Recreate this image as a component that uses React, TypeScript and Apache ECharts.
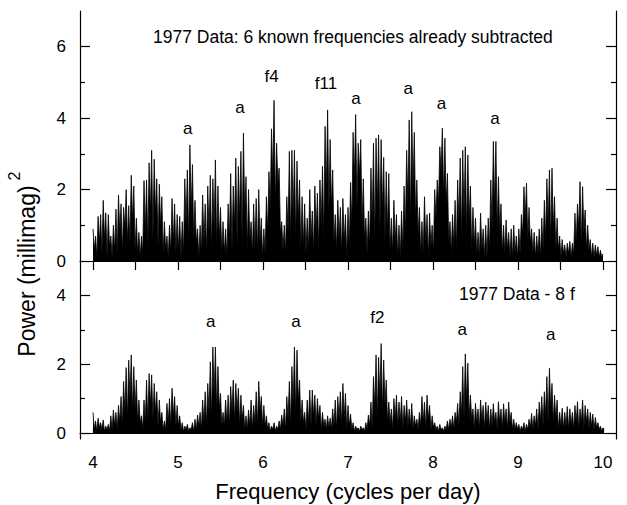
import React, { useEffect, useRef } from "react";
import * as echarts from "echarts";

// Frequency grid of the periodogram samples (cycles per day)
const FREQ_START = 4.0;
const FREQ_STEP = 0.03;

// Top panel: 1977 data, 6 known frequencies subtracted (spike tops / dips between spikes)
const topPeaks = [
  0.9, 0.7, 1.25, 1.3, 1.7, 1.35, 1.3, 0.7, 1.0, 1.45,
  1.85, 1.6, 1.5, 2.0, 1.55, 2.4, 2.1, 1.2, 0.8, 0.7,
  2.25, 2.27, 2.75, 3.1, 2.85, 2.3, 2.15, 1.8, 1.1, 0.7,
  1.0, 1.75, 1.6, 1.3, 1.25, 1.1, 2.3, 2.55, 3.25, 2.7,
  1.7, 0.9, 1.0, 1.85, 1.6, 2.1, 2.4, 2.3, 2.83, 2.1,
  1.5, 1.1, 0.9, 1.6, 2.45, 2.1, 2.88, 2.65, 3.07, 3.58,
  2.36, 2.0, 1.1, 1.6, 1.75, 2.0, 1.2, 0.9, 1.8, 2.5,
  3.7, 4.5, 3.3, 2.6, 1.1, 1.0, 1.8, 3.07, 3.1, 3.1,
  2.8, 2.27, 1.8, 1.6, 1.2, 2.0, 1.4, 2.1, 1.9, 2.27,
  2.65, 3.77, 4.23, 3.4, 2.55, 1.3, 1.7, 1.5, 1.75, 1.3,
  1.5, 2.2, 3.6, 4.1, 3.3, 3.4, 2.3, 1.2, 1.4, 2.6,
  3.3, 3.44, 3.53, 3.4, 2.9, 2.5, 2.45, 1.2, 1.7, 1.3,
  1.0, 1.4, 2.1, 3.1, 3.95, 4.18, 3.6, 2.27, 1.5, 1.1,
  1.8, 1.3, 1.34, 1.0, 2.0, 2.27, 3.2, 3.72, 3.44, 2.45,
  1.1, 1.3, 1.7, 2.27, 2.88, 3.1, 3.2, 2.97, 2.1, 1.5,
  1.2, 0.8, 1.34, 0.9, 1.0, 1.2, 2.27, 3.35, 3.35, 2.36,
  1.6, 1.0, 1.15, 0.8, 0.9, 1.0, 0.7, 0.9, 1.3, 2.08,
  2.18, 1.5, 0.9, 0.8, 0.7, 0.9, 1.2, 1.7, 2.3, 2.55,
  2.6, 1.8, 1.2, 0.7, 0.6, 0.45, 0.5, 0.55, 0.5, 1.34,
  1.6, 2.22, 2.08, 1.43, 1.0, 0.6, 0.5, 0.45, 0.4, 0.3,
  0.2,
];
const topTroughs = [
  0.3, 0.1, 0.5, 0.2, 0.6, 0.1, 0.4, 0.1, 0.3, 0.2,
  0.8, 0.2, 0.9, 0.5, 0.5, 1.1, 0.3, 0.2, 0.1, 0.2,
  0.8, 0.4, 1.3, 0.6, 1.3, 0.4, 1.0, 0.2, 0.3, 0.1,
  0.2, 0.5, 0.2, 0.3, 0.1, 0.2, 1.0, 0.5, 1.4, 0.6,
  0.5, 0.1, 0.2, 0.5, 0.2, 0.8, 0.3, 0.9, 0.4, 0.6,
  0.2, 0.2, 0.1, 0.6, 0.3, 1.0, 0.5, 1.2, 0.5, 1.3,
  0.3, 0.6, 0.2, 0.4, 0.2, 0.5, 0.1, 0.2, 0.8, 1.4,
  2.3, 1.6, 2.2, 0.8, 0.3, 0.2, 0.8, 0.5, 1.2, 0.6,
  1.1, 0.3, 0.4, 0.2, 0.3, 0.6, 0.2, 0.8, 0.3, 1.0,
  0.6, 1.9, 1.4, 1.5, 0.5, 0.3, 0.6, 0.2, 0.5, 0.1,
  0.4, 1.0, 2.3, 1.5, 2.4, 1.0, 0.6, 0.2, 0.4, 1.0,
  0.5, 1.5, 0.8, 1.4, 0.6, 0.8, 0.3, 0.2, 0.5, 0.1,
  0.1, 0.3, 0.8, 1.6, 1.0, 2.0, 1.2, 0.7, 0.2, 0.2,
  0.5, 0.1, 0.4, 0.2, 1.2, 1.6, 2.5, 1.8, 1.6, 0.5,
  0.2, 0.4, 0.3, 1.1, 0.6, 1.2, 0.7, 1.1, 0.3, 0.4,
  0.2, 0.1, 0.3, 0.1, 0.1, 0.3, 0.9, 1.5, 0.8, 0.8,
  0.2, 0.2, 0.3, 0.1, 0.1, 0.2, 0.1, 0.2, 0.7, 1.2,
  0.6, 0.5, 0.2, 0.1, 0.2, 0.1, 0.3, 0.6, 1.0, 0.5,
  0.9, 0.3, 0.3, 0.1, 0.2, 0.1, 0.2, 0.1, 0.2, 0.5,
  0.9, 0.4, 0.8, 0.3, 0.3, 0.1, 0.1, 0.15, 0.1, 0.1,
  0.05,
];

// Bottom panel: 1977 data minus 8 frequencies
const bottomPeaks = [
  0.6, 0.35, 0.43, 0.3, 0.38, 0.2, 0.25, 0.5, 0.67, 0.6,
  0.81, 1.06, 1.5, 1.9, 2.12, 2.27, 1.93, 1.54, 0.96, 0.5,
  0.96, 1.54, 1.73, 1.69, 1.44, 1.2, 0.96, 0.6, 0.35, 0.86,
  1.0, 1.3, 1.06, 0.8, 0.5, 0.3, 0.2, 0.25, 0.15, 0.3,
  0.4, 0.52, 0.6, 0.96, 1.2, 1.44, 2.07, 2.5, 2.5, 1.93,
  1.15, 0.6, 0.96, 1.1, 1.35, 1.54, 1.44, 1.3, 1.1, 0.8,
  0.5, 0.67, 0.96, 0.8, 1.2, 1.5, 1.06, 0.8, 0.5, 0.3,
  0.2, 0.3, 0.2, 0.35, 0.52, 0.7, 1.06, 1.5, 1.93, 2.5,
  2.41, 1.54, 0.96, 0.6, 0.96, 1.25, 1.25, 1.1, 1.0, 0.8,
  0.6, 0.4, 0.5, 0.43, 0.7, 0.96, 1.06, 1.2, 1.44, 1.15,
  0.8, 0.55, 0.3, 0.2, 0.15, 0.2, 0.15, 0.3, 0.52, 0.9,
  1.64, 2.27, 2.2, 2.6, 2.12, 1.54, 0.9, 0.7, 1.0, 1.1,
  0.9, 1.06, 0.8, 0.96, 0.7, 0.86, 0.5, 0.4, 0.6, 1.06,
  0.9, 1.1, 0.8, 0.5, 0.3, 0.2, 0.25, 0.15, 0.2, 0.35,
  0.4, 0.5, 0.6, 0.86, 1.2, 1.93, 2.3, 2.03, 1.1, 0.7,
  0.86, 0.7, 0.96, 0.8, 0.9, 0.8, 0.7, 0.85, 0.6, 0.91,
  0.7, 0.85, 0.7, 0.9, 0.6, 0.4, 0.3, 0.25, 0.2, 0.3,
  0.25, 0.4, 0.57, 0.5, 0.7, 0.9, 1.06, 1.2, 1.64, 1.88,
  1.44, 1.1, 0.96, 0.6, 0.72, 0.6, 0.77, 0.7, 0.6, 0.8,
  0.91, 0.7, 0.96, 0.8, 0.7, 0.6, 0.55, 0.45, 0.3, 0.2,
  0.15,
];
const bottomTroughs = [
  0.1, 0.05, 0.15, 0.1, 0.05, 0.1, 0.05, 0.1, 0.2, 0.1,
  0.3, 0.2, 0.6, 0.4, 1.0, 0.6, 0.7, 0.3, 0.3, 0.1,
  0.3, 0.3, 0.8, 0.4, 0.6, 0.2, 0.3, 0.1, 0.1, 0.3,
  0.2, 0.5, 0.2, 0.2, 0.1, 0.05, 0.1, 0.05, 0.1, 0.05,
  0.1, 0.2, 0.1, 0.3, 0.2, 0.6, 0.4, 1.1, 0.6, 0.7,
  0.2, 0.2, 0.3, 0.2, 0.6, 0.3, 0.6, 0.2, 0.4, 0.1,
  0.1, 0.2, 0.1, 0.3, 0.2, 0.6, 0.2, 0.2, 0.1, 0.05,
  0.1, 0.05, 0.1, 0.1, 0.2, 0.1, 0.4, 0.2, 0.8, 0.5,
  0.9, 0.3, 0.3, 0.1, 0.3, 0.2, 0.5, 0.2, 0.4, 0.1,
  0.2, 0.1, 0.15, 0.1, 0.2, 0.1, 0.4, 0.2, 0.4, 0.1,
  0.2, 0.1, 0.05, 0.1, 0.05, 0.1, 0.05, 0.1, 0.2, 0.1,
  0.7, 0.4, 1.0, 0.6, 0.8, 0.3, 0.3, 0.1, 0.4, 0.2,
  0.3, 0.1, 0.3, 0.2, 0.2, 0.1, 0.2, 0.1, 0.2, 0.3,
  0.1, 0.4, 0.1, 0.15, 0.1, 0.05, 0.1, 0.05, 0.1, 0.1,
  0.15, 0.1, 0.3, 0.2, 0.5, 0.4, 0.9, 0.4, 0.4, 0.1,
  0.3, 0.1, 0.35, 0.1, 0.3, 0.1, 0.2, 0.3, 0.1, 0.3,
  0.1, 0.3, 0.1, 0.3, 0.1, 0.1, 0.1, 0.05, 0.1, 0.05,
  0.1, 0.15, 0.1, 0.2, 0.1, 0.35, 0.2, 0.5, 0.3, 0.7,
  0.3, 0.4, 0.1, 0.2, 0.1, 0.2, 0.1, 0.25, 0.1, 0.3,
  0.1, 0.3, 0.1, 0.3, 0.1, 0.2, 0.1, 0.15, 0.1, 0.05,
  0.05,
];

// Peak annotations
const topLabelText = ["a", "a", "f4", "f11", "a", "a", "a", "a"];
const topLabelFreq = [5.114, 5.73, 6.1, 6.74, 7.094, 7.71, 8.1, 8.73];
const topLabelPower = [3.72, 4.3, 5.16, 4.98, 4.54, 4.84, 4.4, 4.0];
const bottomLabelText = ["a", "a", "f2", "a", "a"];
const bottomLabelFreq = [5.385, 6.388, 7.345, 8.345, 9.385];
const bottomLabelPower = [3.24, 3.24, 3.35, 3.01, 2.85];

// Axis tick values
const xTicks = [4, 4.5, 5, 5.5, 6, 6.5, 7, 7.5, 8, 8.5, 9, 9.5, 10];
const xLabels = [4, 5, 6, 7, 8, 9, 10];
const topMajor = [0, 2, 4, 6];
const topMinor = [1, 3, 5];
const bottomMajor = [0, 2, 4];
const bottomMinor = [1, 3];

const FONT = "'Liberation Sans', Arial, Helvetica, sans-serif";

function buildSpikes(peaks: number[], troughs: number[]) {
  const out: number[][] = [];
  for (let i = 0; i < peaks.length; i++) {
    const f = FREQ_START + i * FREQ_STEP;
    out.push([f, peaks[i]]);
    if (i < peaks.length - 1) out.push([f + FREQ_STEP / 2, troughs[i] ?? 0]);
  }
  return out;
}

function labelData(text: string[], fx: number[], py: number[]) {
  return text.map((t, i) => ({ value: [fx[i], py[i]], name: t }));
}

function yAxisDef(grid: number, pos: string, min: number, max: number, ticks: number[], len: number, labels: number[] | null, line: boolean) {
  return {
    type: "value",
    gridIndex: grid,
    position: pos,
    min,
    max,
    splitLine: { show: false },
    axisLine: { show: line, lineStyle: { color: "#000", width: 1.2 } },
    axisTick: { show: true, inside: true, length: len, customValues: ticks, lineStyle: { color: "#000", width: 1.2 } },
    axisLabel: labels
      ? { show: true, customValues: labels, color: "#000", fontSize: 17, fontFamily: FONT, margin: 14 }
      : { show: false },
  };
}

const annotationLabel = {
  show: true,
  position: "inside",
  formatter: (p: any) => p.name,
  color: "#000",
  fontSize: 17,
  fontFamily: FONT,
  textBorderWidth: 0,
  textShadowBlur: 0,
  opacity: 1,
};

export default function App() {
  const ref = useRef<HTMLDivElement>(null);
  useEffect(() => {
    if (!ref.current) return;
    const chart = echarts.init(ref.current, undefined, { renderer: "svg" });
    const X_MIN = 3.847;
    const X_MAX = 10.153;
    const option: any = {
      animation: false,
      backgroundColor: "#fff",
      grid: [
        { left: 80, right: 11, top: 11, height: 266 },
        { left: 80, right: 11, top: 277, height: 162 },
      ],
      xAxis: [
        {
          type: "value",
          gridIndex: 0,
          position: "top",
          min: X_MIN,
          max: X_MAX,
          splitLine: { show: false },
          axisLine: { show: true, lineStyle: { color: "#000", width: 1.2 } },
          axisTick: { show: true, inside: true, length: 9, customValues: xTicks, lineStyle: { color: "#000", width: 1.2 } },
          axisLabel: { show: false },
        },
        {
          type: "value",
          gridIndex: 1,
          position: "bottom",
          min: X_MIN,
          max: X_MAX,
          splitLine: { show: false },
          axisLine: { show: true, lineStyle: { color: "#000", width: 1.2 } },
          axisTick: { show: true, inside: true, length: 5, customValues: xTicks, lineStyle: { color: "#000", width: 1.2 } },
          axisLabel: { show: true, customValues: xLabels, color: "#000", fontSize: 17, fontFamily: FONT, margin: 15 },
          name: "Frequency (cycles per day)",
          nameLocation: "middle",
          nameGap: 41,
          nameTextStyle: { color: "#000", fontSize: 22, fontFamily: FONT },
        },
      ],
      yAxis: [
        yAxisDef(0, "left", -0.448, 7.0, topMajor, 10, topMajor, true),
        yAxisDef(0, "left", -0.448, 7.0, topMinor, 5, null, false),
        yAxisDef(0, "right", -0.448, 7.0, topMajor, 10, null, true),
        yAxisDef(0, "right", -0.448, 7.0, topMinor, 5, null, false),
        yAxisDef(1, "left", -0.174, 4.535, bottomMajor, 10, bottomMajor, true),
        yAxisDef(1, "left", -0.174, 4.535, bottomMinor, 5, null, false),
        yAxisDef(1, "right", -0.174, 4.535, bottomMajor, 10, null, true),
        yAxisDef(1, "right", -0.174, 4.535, bottomMinor, 5, null, false),
      ],
      series: [
        {
          type: "line",
          xAxisIndex: 0,
          yAxisIndex: 0,
          data: buildSpikes(topPeaks, topTroughs),
          showSymbol: false,
          symbol: "none",
          lineStyle: { color: "#000", width: 0.8 },
          areaStyle: { color: "#000", opacity: 1 },
        },
        {
          type: "line",
          xAxisIndex: 1,
          yAxisIndex: 4,
          data: buildSpikes(bottomPeaks, bottomTroughs),
          showSymbol: false,
          symbol: "none",
          lineStyle: { color: "#000", width: 0.8 },
          areaStyle: { color: "#000", opacity: 1 },
        },
        {
          type: "scatter",
          xAxisIndex: 0,
          yAxisIndex: 0,
          symbolSize: 0,
          itemStyle: { opacity: 1, color: "#000" },
          data: labelData(topLabelText, topLabelFreq, topLabelPower),
          label: annotationLabel,
        },
        {
          type: "scatter",
          xAxisIndex: 1,
          yAxisIndex: 4,
          symbolSize: 0,
          itemStyle: { opacity: 1, color: "#000" },
          data: labelData(bottomLabelText, bottomLabelFreq, bottomLabelPower),
          label: annotationLabel,
        },
      ],
      graphic: [
        {
          type: "text",
          x: 153,
          y: 37,
          style: { text: "1977 Data: 6 known frequencies already subtracted", fill: "#000", fontSize: 17.5, fontFamily: FONT, align: "left", verticalAlign: "middle" },
        },
        {
          type: "text",
          x: 459,
          y: 294,
          style: { text: "1977 Data - 8 f", fill: "#000", fontSize: 17.5, fontFamily: FONT, align: "left", verticalAlign: "middle" },
        },
        {
          type: "text",
          x: 27,
          y: 271,
          rotation: Math.PI / 2,
          style: { text: "Power (millimag)", fill: "#000", fontSize: 23, fontFamily: FONT, align: "center", verticalAlign: "middle" },
        },
        {
          type: "text",
          x: 14,
          y: 176,
          rotation: Math.PI / 2,
          style: { text: "2", fill: "#000", fontSize: 16, fontFamily: FONT, align: "center", verticalAlign: "middle" },
        },
      ],
    };
    chart.setOption(option);
    return () => chart.dispose();
  }, []);
  return (
    <div
      ref={ref}
      style={{ position: "absolute", left: 0, top: 0, width: 627, height: 505, background: "#fff" }}
    />
  );
}
